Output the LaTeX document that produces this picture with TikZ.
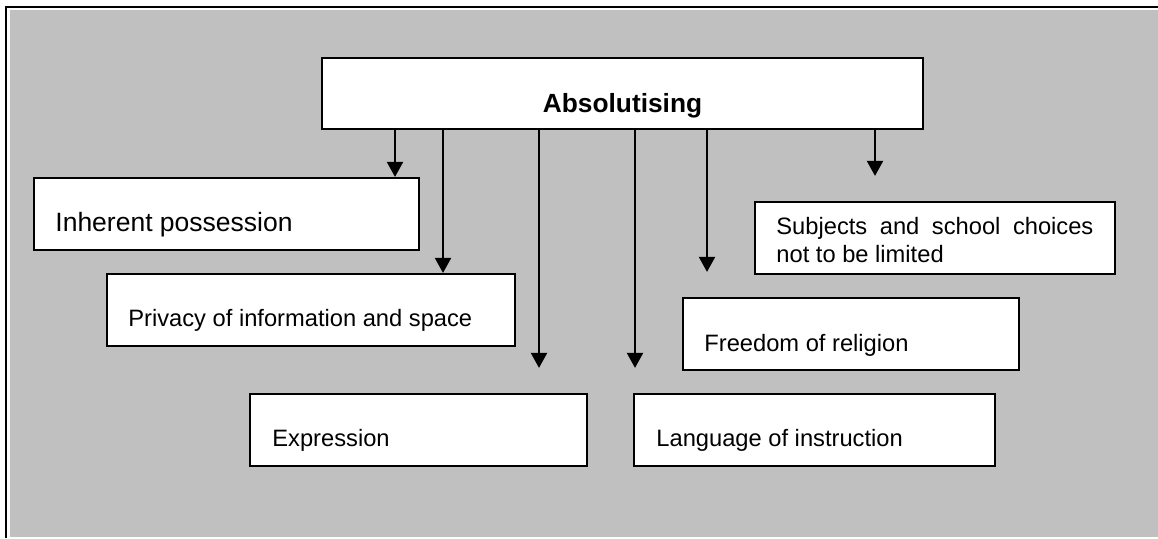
\documentclass[tikz,border=0pt]{standalone}
\usepackage{fontspec}
\setmainfont{Liberation Sans}
\usetikzlibrary{arrows.meta}
\definecolor{panel}{RGB}{192,192,192}
\begin{document}
\begin{tikzpicture}[x=0.5pt,y=-0.5pt,
  box/.style={draw=black,fill=white,line width=1.1pt,rectangle,inner sep=0pt},
  txt/.style={inner sep=0pt,anchor=base west,font=\fontsize{11.85pt}{13.85pt}\selectfont},
  arr/.style={line width=1pt,-{Triangle[width=8pt,length=7.5pt]}},
  gap/.style={shorten >=12.5pt}]
  % page frame and grey panel
  \useasboundingbox (0,0) rectangle (1158,538);
  \fill[white] (0,0) rectangle (1158,538);
  \fill[panel] (10,10) rectangle (1158,537);
  \draw[line width=1.2pt] (6,538) -- (6,7) -- (1158,7);

  % boxes
  \node[box,minimum width=300.5pt,minimum height=35.5pt] (top)  at (622.5,93.5) {};
  \node[box,minimum width=192.5pt,minimum height=36pt]   (inh)  at (226.5,214)  {};
  \node[box,minimum width=204pt,  minimum height=36pt]   (priv) at (311,310)    {};
  \node[box,minimum width=168.5pt,minimum height=36pt]   (expr) at (418.5,430)  {};
  \node[box,minimum width=180.5pt,minimum height=36pt]   (lang) at (814.5,430)  {};
  \node[box,minimum width=168pt,  minimum height=36pt]   (free) at (851,334)    {};
  \node[box,minimum width=180pt,  minimum height=36pt]   (subj) at (935,238)    {};

  % labels
  \node[inner sep=0pt,anchor=base,font=\fontsize{13.15pt}{15pt}\selectfont\bfseries] (ttop) at (622.5,112) {Absolutising};
  \node[txt,font=\fontsize{13.25pt}{15.5pt}\selectfont] (tinh) at (55,231) {Inherent possession};
  \node[txt] (tpriv) at (128,326.5) {Privacy of information and space};
  \node[txt] (texpr) at (272,446.5) {Expression};
  \node[txt] (tlang) at (656,446.5) {Language of instruction};
  \node[txt] (tfree) at (704,351) {Freedom of religion};
  % two-line label: the base anchor sits on its last line
  \node[txt,align=left] (tsubj) at (776,262)
    {\makebox[158.5pt][s]{Subjects and school choices}\\not to be limited};

  % connector columns
  \coordinate (c1) at (395,0);
  \coordinate (c2) at (443,0);
  \coordinate (c3) at (539,0);
  \coordinate (c4) at (635,0);
  \coordinate (c5) at (707,0);
  \coordinate (c6) at (875,0);

  % connectors
  \draw[arr]     (top.south -| c1) -- (inh.north -| c1);
  \draw[arr]     (top.south -| c2) -- (priv.north -| c2);
  \draw[arr,gap] (top.south -| c3) -- (expr.north -| c3);
  \draw[arr,gap] (top.south -| c4) -- (lang.north -| c4);
  \draw[arr,gap] (top.south -| c5) -- (free.north -| c5);
  \draw[arr,gap] (top.south -| c6) -- (subj.north -| c6);
\end{tikzpicture}
\end{document}
